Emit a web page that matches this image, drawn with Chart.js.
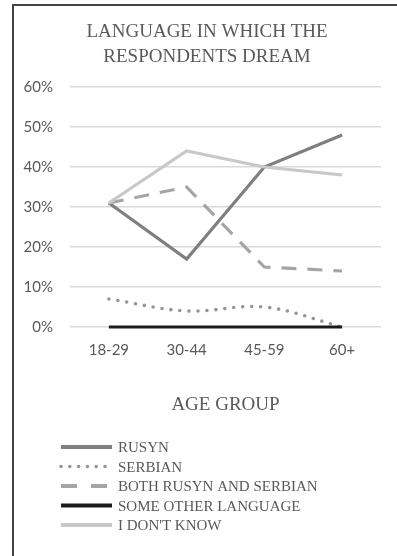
<!DOCTYPE html>
<html>
<head>
<meta charset="utf-8">
<script src="https://cdn.jsdelivr.net/npm/chart.js@4/dist/chart.umd.min.js"></script>
<style>
  html, body { margin: 0; padding: 0; background: #fff; }
  #wrap { position: relative; width: 397px; height: 556px; }
</style>
</head>
<body>
<div id="wrap"><canvas id="c" width="397" height="556"></canvas></div>
<script>
// Age groups on the x axis
const ageGroups = ['18-29', '30-44', '45-59', '60+'];

// Share of respondents (%) by language they dream in
const rusyn = [31, 17, 40, 48];
const serbian = [7, 4, 5, 0];
const bothRusynSerbian = [31, 35, 15, 14];
const otherLanguage = [0, 0, 0, 0];
const dontKnow = [31, 44, 40, 38];

const seriesNames = ['RUSYN', 'SERBIAN', 'BOTH RUSYN AND SERBIAN', 'SOME OTHER LANGUAGE', "I DON'T KNOW"];
const titleLines = ['LANGUAGE IN WHICH THE', 'RESPONDENTS DREAM'];
const xTitle = 'AGE GROUP';

const TEXT = '#595959';
const SERIF = "'Liberation Serif', 'Times New Roman', serif";

// Thin frame on the left and top edges, plus the two-line heading
const framePlugin = {
  id: 'frame',
  beforeDraw(chart) {
    const ctx = chart.ctx;
    ctx.save();
    ctx.strokeStyle = '#444';
    ctx.lineWidth = 2;
    ctx.beginPath();
    ctx.moveTo(13, 556);
    ctx.lineTo(13, 5);
    ctx.lineTo(397, 5);
    ctx.stroke();
    ctx.fillStyle = TEXT;
    ctx.font = "19px " + SERIF;
    ctx.textAlign = 'center';
    ctx.textBaseline = 'alphabetic';
    titleLines.forEach((t, i) => ctx.fillText(t, 207, 37 + i * 25));
    ctx.restore();
  }
};

// Vertical legend, one series per row, under the axis title
const stackedLegend = {
  id: 'stackedLegend',
  afterDraw(chart) {
    const ctx = chart.ctx;
    const x0 = 61, x1 = 112, textX = 118, top = 447, step = 19.5;
    ctx.save();
    chart.data.datasets.forEach((ds, i) => {
      const y = top + i * step;
      ctx.beginPath();
      ctx.strokeStyle = ds.borderColor;
      ctx.lineWidth = ds.legendWidth || ds.borderWidth;
      ctx.lineCap = ds.borderCapStyle || 'butt';
      ctx.setLineDash(ds.legendDash || ds.borderDash || []);
      ctx.moveTo(x0, y);
      ctx.lineTo(x1, y);
      ctx.stroke();
      ctx.setLineDash([]);
      ctx.fillStyle = TEXT;
      ctx.font = "15px " + SERIF;
      ctx.textBaseline = 'alphabetic';
      ctx.textAlign = 'left';
      ctx.fillText(ds.label, textX, y + 5);
    });
    ctx.restore();
  }
};

new Chart(document.getElementById('c'), {
  type: 'line',
  data: {
    labels: ageGroups,
    datasets: [
      { label: seriesNames[0], data: rusyn, borderColor: '#7f7f7f', borderWidth: 3.2, order: 5,
        legendWidth: 4 },
      { label: seriesNames[1], data: serbian, borderColor: '#959595', borderWidth: 3.6, order: 4,
        borderDash: [0, 9], borderCapStyle: 'round', tension: 0.35, legendDash: [0, 8.8] },
      { label: seriesNames[2], data: bothRusynSerbian, borderColor: '#a5a5a5', borderWidth: 3.2, order: 3,
        borderDash: [15, 11], legendWidth: 4, legendDash: [16, 14] },
      { label: seriesNames[3], data: otherLanguage, borderColor: '#1c1c1c', borderWidth: 3.2, order: 2,
        legendWidth: 4 },
      { label: seriesNames[4], data: dontKnow, borderColor: '#c8c8c8', borderWidth: 3.2, order: 1,
        legendWidth: 4 }
    ]
  },
  options: {
    responsive: false,
    animation: false,
    layout: { padding: { left: 16, right: 16, top: 87, bottom: 138.5 } },
    elements: { point: { radius: 0, hoverRadius: 0 }, line: { tension: 0, fill: false } },
    datasets: { line: { clip: false } },
    plugins: {
      legend: { display: false },
      tooltip: { enabled: false },
      title: { display: false }
    },
    scales: {
      x: {
        offset: true,
        grid: { display: false, drawTicks: false },
        border: { display: false },
        ticks: { color: TEXT, font: { family: 'Lato', size: 15 }, padding: 14.5 },
        title: {
          display: true,
          text: xTitle,
          color: TEXT,
          font: { family: SERIF, size: 19, weight: 'normal', lineHeight: 25 / 19 },
          padding: { top: 18.5, bottom: 0 }
        }
      },
      y: {
        min: 0,
        max: 60,
        afterFit(scale) { scale.width = 54; },
        grid: { color: '#d9d9d9', lineWidth: 1.5, drawTicks: false },
        border: { display: false },
        ticks: {
          stepSize: 10,
          color: TEXT,
          font: { family: 'Lato', size: 15 },
          padding: 17,
          callback: v => v + '%'
        }
      }
    }
  },
  plugins: [framePlugin, stackedLegend]
});
</script>
</body>
</html>
